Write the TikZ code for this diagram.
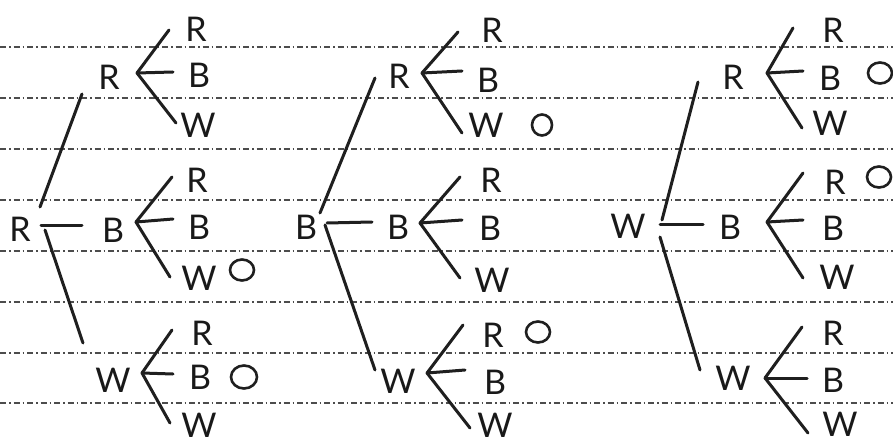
\documentclass[tikz,border=0pt]{standalone}
\usepackage{fontspec}
\setmainfont{Lato}
\usetikzlibrary{shapes.geometric}
\begin{document}
\begin{tikzpicture}[x=1pt,y=-1pt,
  lbl/.style={font=\fontsize{34}{34}\selectfont, inner sep=0pt, text=black!90},
  br/.style={line width=3pt, line cap=round, draw=black!88},
  ring/.style={shape=ellipse, draw=black!88, line width=2.6pt, minimum width=24pt, minimum height=21pt, inner sep=0pt},
  rule/.style={draw=black!70, line width=2.2pt, dash pattern=on 6pt off 3pt on 1.5pt off 3pt}]
\fill[white] (0,0) rectangle (893,446);
\useasboundingbox (0,0) rectangle (893,446);
\foreach \yy in {47,98,149,200,251,302,353,403} \draw[rule] (0,\yy) -- (893,\yy);

% ---------- tree 1 ----------
\node[lbl] (a) at (20,229) {R};
\node[lbl] (aR) at (109,77) {R};
\node[lbl] (aB) at (113,230) {B};
\node[lbl] (aW) at (113,380) {W};
\coordinate (ah1) at (41,226); \coordinate (ah2) at (82,226);
\coordinate (au1) at (40,207); \coordinate (au2) at (82,94);
\coordinate (ad1) at (45,230); \coordinate (ad2) at (83,343);
\draw[br] (ah1) -- (ah2); \draw[br] (au1) -- (au2); \draw[br] (ad1) -- (ad2);
% R branch
\coordinate (aRf) at (137,73);
\coordinate (aR1) at (169,30); \coordinate (aR2) at (173,72); \coordinate (aR3) at (176,123);
\draw[br] (aRf) -- (aR1); \draw[br] (aRf) -- (aR2); \draw[br] (aRf) -- (aR3);
\node[lbl] (aRR) at (196,29) {R};
\node[lbl] (aRB) at (199,75) {B};
\node[lbl] (aRW) at (198,125) {W};
% B branch
\coordinate (aBf) at (136,222);
\coordinate (aB1) at (172,177); \coordinate (aB2) at (173,219); \coordinate (aB3) at (170,277);
\draw[br] (aBf) -- (aB1); \draw[br] (aBf) -- (aB2); \draw[br] (aBf) -- (aB3);
\node[lbl] (aBR) at (197,180) {R};
\node[lbl] (aBB) at (199,227) {B};
\node[lbl] (aBW) at (199,278) {W};
\node[ring] (aBo) at (242,270) {};
% W branch
\coordinate (aWf) at (142,373);
\coordinate (aW1) at (172,330); \coordinate (aW2) at (173,374); \coordinate (aW3) at (170,423);
\draw[br] (aWf) -- (aW1); \draw[br] (aWf) -- (aW2); \draw[br] (aWf) -- (aW3);
\node[lbl] (aWR) at (202,333) {R};
\node[lbl] (aWB) at (200,377) {B};
\node[lbl] (aWW) at (199,425) {W};
\node[ring, minimum width=26pt, minimum height=23pt] (aWo) at (244,377) {};

% ---------- tree 2 ----------
\node[lbl] (b) at (306,227) {B};
\node[lbl] (bR) at (399,76) {R};
\node[lbl] (bB) at (398,227) {B};
\node[lbl] (bW) at (398,381) {W};
\coordinate (bh1) at (327,223); \coordinate (bh2) at (372,222);
\coordinate (bu1) at (320,213); \coordinate (bu2) at (375,78);
\coordinate (bd1) at (325,225); \coordinate (bd2) at (375,370);
\draw[br] (bh1) -- (bh2); \draw[br] (bu1) -- (bu2); \draw[br] (bd1) -- (bd2);
% R branch
\coordinate (bRf) at (422,73);
\coordinate (bR1) at (458,32); \coordinate (bR2) at (462,71); \coordinate (bR3) at (462,133);
\draw[br] (bRf) -- (bR1); \draw[br] (bRf) -- (bR2); \draw[br] (bRf) -- (bR3);
\node[lbl] (bRR) at (492,30) {R};
\node[lbl] (bRB) at (488,80) {B};
\node[lbl] (bRW) at (486,125) {W};
\node[ring, minimum width=20pt, minimum height=21pt] (bRo) at (542,125) {};
% B branch
\coordinate (bBf) at (420,223);
\coordinate (bB1) at (460,177); \coordinate (bB2) at (462,220); \coordinate (bB3) at (460,278);
\draw[br] (bBf) -- (bB1); \draw[br] (bBf) -- (bB2); \draw[br] (bBf) -- (bB3);
\node[lbl] (bBR) at (491,180) {R};
\node[lbl] (bBB) at (490,228) {B};
\node[lbl] (bBW) at (492,280) {W};
% W branch
\coordinate (bWf) at (427,373);
\coordinate (bW1) at (463,325); \coordinate (bW2) at (465,370); \coordinate (bW3) at (470,428);
\draw[br] (bWf) -- (bW1); \draw[br] (bWf) -- (bW2); \draw[br] (bWf) -- (bW3);
\node[lbl] (bWR) at (493,335) {R};
\node[lbl] (bWB) at (495,382) {B};
\node[lbl] (bWW) at (495,425) {W};
\node[ring] (bWo) at (538,332) {};

% ---------- tree 3 ----------
\node[lbl] (c) at (628,226) {W};
\node[lbl] (cR) at (733,77) {R};
\node[lbl] (cB) at (730,227) {B};
\node[lbl] (cW) at (733,378) {W};
\coordinate (ch1) at (660,225); \coordinate (ch2) at (703,225);
\coordinate (cu1) at (662,220); \coordinate (cu2) at (698,82);
\coordinate (cd1) at (660,237); \coordinate (cd2) at (700,370);
\draw[br] (ch1) -- (ch2); \draw[br] (cu1) -- (cu2); \draw[br] (cd1) -- (cd2);
% R branch
\coordinate (cRf) at (767,73);
\coordinate (cR1) at (793,28); \coordinate (cR2) at (803,71); \coordinate (cR3) at (802,128);
\draw[br] (cRf) -- (cR1); \draw[br] (cRf) -- (cR2); \draw[br] (cRf) -- (cR3);
\node[lbl] (cRR) at (833,30) {R};
\node[lbl] (cRB) at (830,78) {B};
\node[lbl] (cRW) at (830,123) {W};
\node[ring] (cRo) at (880,73) {};
% B branch
\coordinate (cBf) at (767,222);
\coordinate (cB1) at (803,173); \coordinate (cB2) at (803,220); \coordinate (cB3) at (803,278);
\draw[br] (cBf) -- (cB1); \draw[br] (cBf) -- (cB2); \draw[br] (cBf) -- (cB3);
\node[lbl] (cBR) at (835,182) {R};
\node[lbl] (cBB) at (833,228) {B};
\node[lbl] (cBW) at (837,277) {W};
\node[ring] (cBo) at (879,177) {};
% W branch
\coordinate (cWf) at (765,378);
\coordinate (cW1) at (802,327); \coordinate (cW2) at (807,378); \coordinate (cW3) at (808,433);
\draw[br] (cWf) -- (cW1); \draw[br] (cWf) -- (cW2); \draw[br] (cWf) -- (cW3);
\node[lbl] (cWR) at (833,333) {R};
\node[lbl] (cWB) at (833,380) {B};
\node[lbl] (cWW) at (840,424) {W};
\end{tikzpicture}
\end{document}
